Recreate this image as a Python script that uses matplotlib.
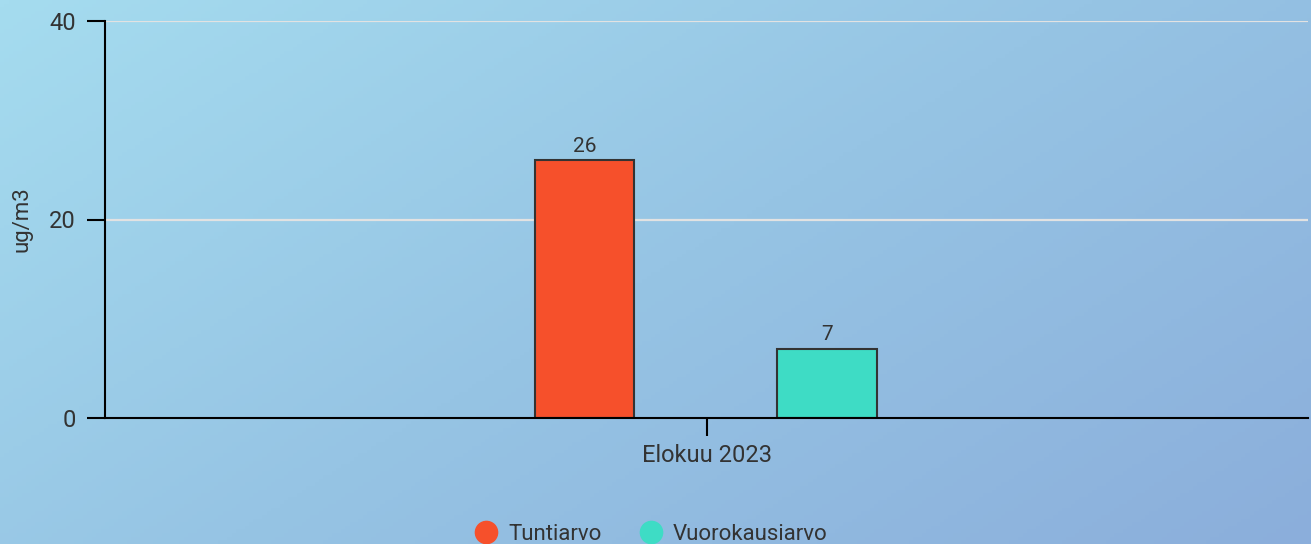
import numpy as np
import matplotlib
matplotlib.use('Agg')
import matplotlib.pyplot as plt
from matplotlib.colors import LinearSegmentedColormap
from matplotlib.lines import Line2D

plt.rcParams['font.family'] = ['Roboto', 'DejaVu Sans']

# data
category = ['Elokuu 2023']
series = ['Tuntiarvo', 'Vuorokausiarvo']
values = [26, 7]
colors = ['#F6502B', '#3EDCC5']
yticks = [0, 20, 40]

text_col = '#333333'

fig = plt.figure(figsize=(13.11, 5.44), dpi=100)

# diagonal gradient background
bg = fig.add_axes([0, 0, 1, 1], zorder=0)
xx, yy = np.meshgrid(np.linspace(0, 1, 300), np.linspace(0, 1, 150))
grad = (xx * 0.6 + yy * 0.4)
cmap = LinearSegmentedColormap.from_list('bg', ['#A5DCEF', '#96C4E4', '#8BAEDB'])
bg.imshow(grad, cmap=cmap, aspect='auto', extent=[0, 1, 0, 1], origin='upper')
bg.set_axis_off()

ax = fig.add_axes([105 / 1311, 1 - 418 / 544, 1203 / 1311, 397 / 544], zorder=1)
ax.patch.set_alpha(0)

offsets = [-0.1014, 0.1]
width = 0.083
for i, (name, v, c) in enumerate(zip(series, values, colors)):
    b = ax.bar(0 + offsets[i], v, width=width, color=c, edgecolor=text_col,
               linewidth=1.5, label=name, zorder=3)
    ax.bar_label(b, labels=[str(v)], padding=3, fontsize=15, color=text_col)

ax.set_xlim(-0.5, 0.5)
ax.set_ylim(0, 40)
ax.set_yticks(yticks)
ax.set_xticks([0])
ax.set_xticklabels(category)
ax.tick_params(axis='both', length=13, width=1.5, color='black',
               labelsize=17, labelcolor=text_col, pad=6)
ax.tick_params(axis='y', pad=8)

for y in yticks[1:]:
    ax.axhline(y, color='#E2E2E2', linewidth=1.6, zorder=1)

for s in ['top', 'right']:
    ax.spines[s].set_visible(False)
for s in ['left', 'bottom']:
    ax.spines[s].set_linewidth(1.5)
    ax.spines[s].set_color('black')
    ax.spines[s].set_zorder(4)

ax.set_ylabel('ug/m3', fontsize=16, color=text_col, labelpad=12)

handles = [Line2D([], [], marker='o', linestyle='none', markersize=16,
                  markerfacecolor=c, markeredgecolor=c) for c in colors]
fig.legend(handles, series, loc='center', bbox_to_anchor=(0.497, 0.018),
           ncol=2, frameon=False, fontsize=16, labelcolor=text_col,
           handlelength=1.0, handletextpad=0.5, columnspacing=1.7)

fig.savefig('out.png', dpi=100)
